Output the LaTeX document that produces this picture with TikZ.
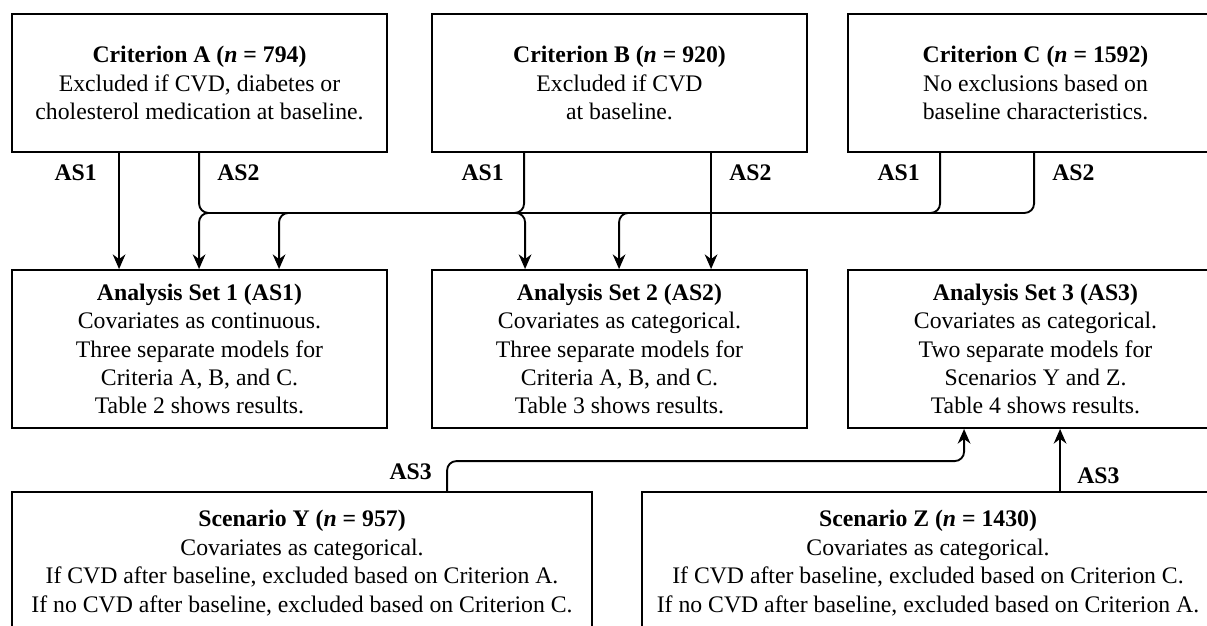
\documentclass[tikz,border=0pt]{standalone}
\usepackage{fontspec}
\setmainfont{Liberation Serif}
\usetikzlibrary{arrows.meta, positioning, calc}

\begin{document}
\begin{tikzpicture}[x=0.75pt, y=-0.75pt,
  box/.style={draw, line width=1.4pt, inner sep=0pt, align=center, font=\fontsize{17.8}{21.3}\selectfont},
  critbox/.style={box, minimum width=281.25pt, minimum height=103.5pt},
  setbox/.style={box, minimum width=281.25pt, minimum height=118.5pt},
  scenbox/.style={box, minimum width=429pt, minimum height=106.5pt},
  lbl/.style={font=\fontsize{17.8}{21.3}\selectfont\bfseries, inner sep=0pt},
  conn/.style={line width=1.4pt, rounded corners=7pt, -{Stealth[length=11pt, width=9.5pt, inset=3.5pt]}}]
\useasboundingbox (0,0) rectangle (1207,625);
% --- Inclusion criteria ---
\node[critbox] (critA) at (199.5,83) {\textbf{Criterion A (\textit{n} = 794)}\\Excluded if CVD, diabetes or\\cholesterol medication at baseline.};
\node[critbox] (critB) at (619.5,83) {\textbf{Criterion B (\textit{n} = 920)}\\Excluded if CVD\\at baseline.};
\node[critbox] (critC) at (1035.5,83) {\textbf{Criterion C (\textit{n} = 1592)}\\No exclusions based on\\baseline characteristics.};
% --- Analysis sets ---
\node[setbox] (set1) at (199.5,349) {\textbf{Analysis Set 1 (AS1)}\\Covariates as continuous.\\Three separate models for\\Criteria A, B, and C.\\Table 2 shows results.};
\node[setbox] (set2) at (619.5,349) {\textbf{Analysis Set 2 (AS2)}\\Covariates as categorical.\\Three separate models for\\Criteria A, B, and C.\\Table 3 shows results.};
\node[setbox] (set3) at (1035.5,349) {\textbf{Analysis Set 3 (AS3)}\\Covariates as categorical.\\Two separate models for\\Scenarios Y and Z.\\Table 4 shows results.};
% --- Scenarios ---
\node[scenbox, minimum width=435pt] (scenY) at (302,563) {\textbf{Scenario Y (\textit{n} = 957)}\\Covariates as categorical.\\If CVD after baseline, excluded based on Criterion A.\\If no CVD after baseline, excluded based on Criterion C.};
\node[scenbox] (scenZ) at (928,563) {\textbf{Scenario Z (\textit{n} = 1430)}\\Covariates as categorical.\\If CVD after baseline, excluded based on Criterion C.\\If no CVD after baseline, excluded based on Criterion A.};
% --- Connectors to AS1 and AS2 (bus at 60 below the criteria) ---
\draw[conn] ($(critA.south west)+(108,0)$) -- ($(set1.north west)+(108,0)$);
\draw[conn] ($(critA.south west)+(188,0)$) -- ++(0,60) -| ($(set2.north west)+(94,0)$);
\draw[conn] ($(critB.south west)+(93,0)$) -- ++(0,60) -| ($(set1.north west)+(268,0)$);
\draw[conn] ($(critB.south west)+(280,0)$) -- ($(set2.north west)+(280,0)$);
\draw[conn] ($(critC.south west)+(93,0)$) -- ++(0,60) -| ($(set1.north west)+(188,0)$);
\draw[conn] ($(critC.south west)+(187,0)$) -- ++(0,60) -| ($(set2.north west)+(188,0)$);
% --- Connectors to AS3 ---
\draw[conn] ($(scenY.north west)+(436,0)$) -- ++(0,-30) -| ($(set3.south west)+(117,0)$);
\draw[conn] ($(scenZ.north west)+(419,0)$) -- ($(set3.south west)+(213,0)$);
% --- Labels ---
\node[lbl, anchor=east] (lA1) at ($(critA.south west)+(86,20)$) {AS1};
\node[lbl, anchor=west] (lA2) at ($(critA.south west)+(206,20)$) {AS2};
\node[lbl, anchor=east] (lB1) at ($(critB.south west)+(73,20)$) {AS1};
\node[lbl, anchor=west] (lB2) at ($(critB.south west)+(298,20)$) {AS2};
\node[lbl, anchor=east] (lC1) at ($(critC.south west)+(73,20)$) {AS1};
\node[lbl, anchor=west] (lC2) at ($(critC.south west)+(205,20)$) {AS2};
\node[lbl, anchor=east] (lY3) at ($(scenY.north west)+(421,-19)$) {AS3};
\node[lbl, anchor=west] (lZ3) at ($(scenZ.north west)+(436,-15)$) {AS3};
\end{tikzpicture}
\end{document}
